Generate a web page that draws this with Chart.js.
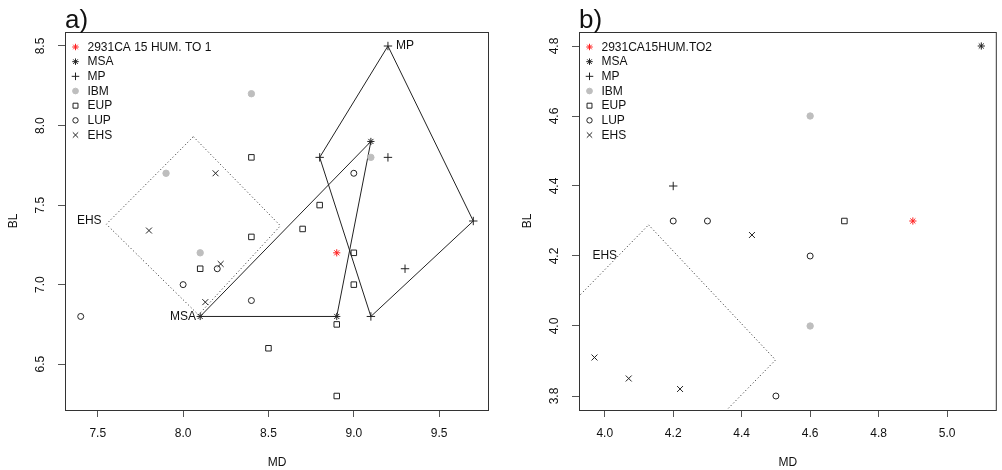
<!DOCTYPE html>
<html>
<head>
<meta charset="utf-8">
<script src="https://cdn.jsdelivr.net/npm/chart.js@4/dist/chart.umd.min.js"></script>
<style>
  html, body { margin: 0; padding: 0; background: #fff; }
  #wrap { position: relative; width: 1002px; height: 470px; }
  #left { position: absolute; left: 0; top: 0; }
  #right { position: absolute; left: 500px; top: 0; }
</style>
</head>
<body>
<div id="wrap">
  <canvas id="left" width="500" height="470"></canvas>
  <canvas id="right" width="502" height="470"></canvas>
</div>
<script>
// ===== DADOS: painel a) =====
const aRefX = [8.9];
const aRefY = [7.2];
const aMsaX = [8.1, 8.9, 9.1];
const aMsaY = [6.8, 6.8, 7.9];
const aMpX = [9.2, 8.8, 9.2, 9.7, 9.3, 9.1];
const aMpY = [8.5, 7.8, 7.8, 7.4, 7.1, 6.8];
const aIbmX = [8.4, 7.9, 8.1, 9.1];
const aIbmY = [8.2, 7.7, 7.2, 7.8];
const aEupX = [8.4, 8.8, 8.7, 8.4, 8.1, 9.0, 9.0, 8.9, 8.5, 8.9];
const aEupY = [7.8, 7.5, 7.35, 7.3, 7.1, 7.2, 7.0, 6.75, 6.6, 6.3];
const aLupX = [9.0, 8.0, 8.2, 8.4, 7.4];
const aLupY = [7.7, 7.0, 7.1, 6.9, 6.8];
const aEhsX = [8.19, 7.8, 8.22, 8.13];
const aEhsY = [7.7, 7.34, 7.13, 6.89];
// contornos (hull) e região EHS
const aMsaHullX = [8.1, 8.9, 9.1, 8.1];
const aMsaHullY = [6.8, 6.8, 7.9, 6.8];
const aMpHullX = [9.2, 9.7, 9.1, 8.8, 9.2];
const aMpHullY = [8.5, 7.4, 6.8, 7.8, 8.5];
const aEhsZoneX = [8.06, 8.57, 8.09, 7.55, 8.06];
const aEhsZoneY = [7.93, 7.37, 6.81, 7.38, 7.93];
const aXTicks = [7.5, 8.0, 8.5, 9.0, 9.5];
const aYTicks = [6.5, 7.0, 7.5, 8.0, 8.5];
const aNotes = ['MP', 'MSA', 'EHS'];
const aNoteX = [9.3, 8.0, 7.45];
const aNoteY = [8.5, 6.8, 7.4];

// ===== DADOS: painel b) =====
const bRefX = [4.9];
const bRefY = [4.3];
const bMsaX = [5.1];
const bMsaY = [4.8];
const bMpX = [4.2];
const bMpY = [4.4];
const bIbmX = [4.6, 4.6];
const bIbmY = [4.6, 4.0];
const bEupX = [4.7];
const bEupY = [4.3];
const bLupX = [4.2, 4.3, 4.6, 4.5];
const bLupY = [4.3, 4.3, 4.2, 3.8];
const bEhsX = [3.97, 4.07, 4.22, 4.43];
const bEhsY = [3.91, 3.85, 3.82, 4.26];
const bEhsZoneX = [4.128, 4.499, 3.971, 3.60, 4.128];
const bEhsZoneY = [4.289, 3.903, 3.374, 3.76, 4.289];
const bXTicks = [4.0, 4.2, 4.4, 4.6, 4.8, 5.0];
const bYTicks = [3.8, 4.0, 4.2, 4.4, 4.6, 4.8];
const bNotes = ['EHS'];
const bNoteX = [4.0];
const bNoteY = [4.2];

const FONT = '"Liberation Sans", Arial, sans-serif';
const INK = '#222';

// ===== HELPERS =====

const pts = (xs, ys) => xs.map((x, i) => ({ x: x, y: ys[i] }));

// faixa estilo R: 4% além dos dados
const rRange = (arrs) => {
    const all = [].concat(...arrs);
    const lo = Math.min(...all), hi = Math.max(...all);
    const pad = (hi - lo) * 0.04;
    return [lo - pad, hi + pad];
};

const markerSet = (label, data, style, radius, color, fill) => ({
    label: label,
    data: data,
    pointStyle: style,
    pointRadius: radius,
    pointHoverRadius: radius,
    borderColor: color,
    backgroundColor: fill,
    borderWidth: 1,
    showLine: false,
    order: 0
});

const outlineSet = (data, dash) => ({
    data: data,
    showLine: true,
    pointRadius: 0,
    borderColor: INK,
    borderWidth: 1,
    borderDash: dash,
    fill: false,
    order: 1
});

// ===== PLUGIN: caixa, rótulos do eixo Y, legenda, anotações =====

const panelPlugin = {
    id: 'panel',
    afterDraw(chart, args, opts) {
        const { ctx, chartArea: a, scales } = chart;
        ctx.save();

        ctx.strokeStyle = '#333';
        ctx.lineWidth = 1;
        ctx.strokeRect(a.left + 0.5, a.top + 0.5, a.right - a.left - 1, a.bottom - a.top);

        ctx.fillStyle = '#111';
        ctx.font = '12px ' + FONT;
        ctx.textAlign = 'center';
        ctx.textBaseline = 'middle';
        scales.y.ticks.forEach(t => {
            ctx.save();
            ctx.translate(a.left - 24, scales.y.getPixelForValue(t.value));
            ctx.rotate(-Math.PI / 2);
            ctx.fillText(t.value.toFixed(1), 0, 0);
            ctx.restore();
        });

        ctx.font = '26px ' + FONT;
        ctx.textAlign = 'left';
        ctx.textBaseline = 'alphabetic';
        ctx.fillText(opts.tag, a.left, 28);

        // legenda
        ctx.font = '12px ' + FONT;
        ctx.textBaseline = 'middle';
        const items = chart.data.datasets.filter(d => d.label);
        items.forEach((d, i) => {
            const yy = a.top + 15 + i * 14.67;
            ctx.strokeStyle = d.borderColor;
            ctx.fillStyle = d.backgroundColor;
            ctx.lineWidth = 1;
            Chart.helpers.drawPoint(ctx, { pointStyle: d.pointStyle, radius: d.pointRadius * 0.9, borderWidth: 1, rotation: 0 }, a.left + 10.5, yy);
            ctx.fillStyle = '#111';
            ctx.fillText(d.label, a.left + 22.5, yy + 0.5);
        });

        // anotações dos contornos
        ctx.textAlign = 'center';
        opts.notes.forEach((txt, i) => {
            ctx.fillText(txt, scales.x.getPixelForValue(opts.noteX[i]), scales.y.getPixelForValue(opts.noteY[i]));
        });

        ctx.restore();
    }
};

// ===== CONFIGURAÇÃO =====

const createPanel = (canvasId, cfg) => {
    const xr = rRange([cfg.xs]);
    const yr = rRange([cfg.ys]);
    return new Chart(document.getElementById(canvasId), {
        type: 'scatter',
        data: { datasets: cfg.datasets },
        options: {
            responsive: false,
            animation: false,
            events: [],
            layout: { padding: cfg.padding },
            plugins: {
                legend: { display: false },
                tooltip: { enabled: false },
                panel: { tag: cfg.tag, notes: cfg.notes, noteX: cfg.noteX, noteY: cfg.noteY }
            },
            scales: {
                x: {
                    type: 'linear',
                    min: xr[0],
                    max: xr[1],
                    afterBuildTicks: s => { s.ticks = cfg.xTicks.map(v => ({ value: v })); },
                    afterFit: s => { s.height = 60; },
                    border: { display: false },
                    grid: { drawOnChartArea: false, drawTicks: true, tickLength: 7, color: '#555' },
                    ticks: {
                        color: '#111',
                        font: { family: FONT, size: 12 },
                        padding: 9,
                        maxRotation: 0,
                        autoSkip: false,
                        callback: v => Number(v).toFixed(1)
                    },
                    title: { display: true, text: 'MD', color: '#111', font: { family: FONT, size: 12 }, padding: { top: 0, bottom: 0 } }
                },
                y: {
                    type: 'linear',
                    min: yr[0],
                    max: yr[1],
                    afterBuildTicks: s => { s.ticks = cfg.yTicks.map(v => ({ value: v })); },
                    afterFit: s => { s.width = 65; },
                    border: { display: false },
                    grid: { drawOnChartArea: false, drawTicks: true, tickLength: 7, color: '#555' },
                    ticks: { display: false },
                    title: { display: true, text: 'BL', color: '#111', font: { family: FONT, size: 12 }, padding: { top: 6, bottom: 0 } }
                }
            }
        },
        plugins: [panelPlugin]
    });
};

const legendSets = (ref, msa, mp, ibm, eup, lup, ehs, refLabel) => [
    markerSet(refLabel, ref, 'star', 3.6, '#ff2020', 'rgba(0,0,0,0)'),
    markerSet('MSA', msa, 'star', 3.6, INK, 'rgba(0,0,0,0)'),
    markerSet('MP', mp, 'cross', 4.2, INK, 'rgba(0,0,0,0)'),
    markerSet('IBM', ibm, 'circle', 3.2, '#bebebe', '#bebebe'),
    markerSet('EUP', eup, 'rect', 3.9, INK, 'rgba(0,0,0,0)'),
    markerSet('LUP', lup, 'circle', 3, INK, 'rgba(0,0,0,0)'),
    markerSet('EHS', ehs, 'crossRot', 4.2, INK, 'rgba(0,0,0,0)')
];

createPanel('left', {
    tag: 'a)',
    padding: { left: 0, right: 11, top: 32, bottom: 0 },
    xs: [aRefX, aMsaX, aMpX, aIbmX, aEupX, aLupX, aEhsX].flat(),
    ys: [aRefY, aMsaY, aMpY, aIbmY, aEupY, aLupY, aEhsY].flat(),
    xTicks: aXTicks,
    yTicks: aYTicks,
    notes: aNotes, noteX: aNoteX, noteY: aNoteY,
    datasets: legendSets(
        pts(aRefX, aRefY), pts(aMsaX, aMsaY), pts(aMpX, aMpY), pts(aIbmX, aIbmY),
        pts(aEupX, aEupY), pts(aLupX, aLupY), pts(aEhsX, aEhsY), '2931CA 15 HUM. TO 1'
    ).concat([
        outlineSet(pts(aMsaHullX, aMsaHullY), []),
        outlineSet(pts(aMpHullX, aMpHullY), []),
        outlineSet(pts(aEhsZoneX, aEhsZoneY), [1, 2.5])
    ])
});

createPanel('right', {
    tag: 'b)',
    padding: { left: 14, right: 1, top: 32, bottom: 0 },
    xs: [bRefX, bMsaX, bMpX, bIbmX, bEupX, bLupX, bEhsX].flat(),
    ys: [bRefY, bMsaY, bMpY, bIbmY, bEupY, bLupY, bEhsY].flat(),
    xTicks: bXTicks,
    yTicks: bYTicks,
    notes: bNotes, noteX: bNoteX, noteY: bNoteY,
    datasets: legendSets(
        pts(bRefX, bRefY), pts(bMsaX, bMsaY), pts(bMpX, bMpY), pts(bIbmX, bIbmY),
        pts(bEupX, bEupY), pts(bLupX, bLupY), pts(bEhsX, bEhsY), '2931CA15HUM.TO2'
    ).concat([
        outlineSet(pts(bEhsZoneX, bEhsZoneY), [1, 2.5])
    ])
});
</script>
</body>
</html>
